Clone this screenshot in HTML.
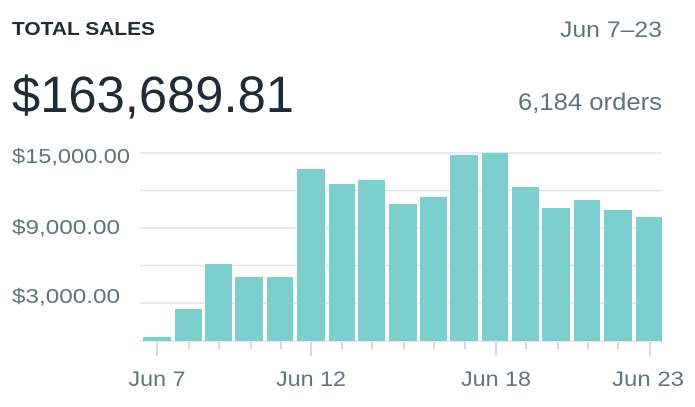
<!DOCTYPE html>
<html><head><style>body{margin:0;background:#fff}svg{display:block}</style></head><body>
<svg width="695" height="407" xmlns="http://www.w3.org/2000/svg" font-family="Liberation Sans, sans-serif">
<text x="12" y="35" font-size="18" font-weight="bold" fill="#212b36" textLength="143" lengthAdjust="spacingAndGlyphs">TOTAL SALES</text>
<text x="662" y="37" font-size="22" fill="#637381" text-anchor="end" textLength="102" lengthAdjust="spacingAndGlyphs">Jun 7–23</text>
<text x="12" y="112" font-size="51" fill="#212b36" textLength="282" lengthAdjust="spacingAndGlyphs">$163,689.81</text>
<text x="662" y="110" font-size="24" fill="#637381" text-anchor="end" textLength="144" lengthAdjust="spacingAndGlyphs">6,184 orders</text>
<g stroke="#dfe3e8" stroke-width="1.5">
<line x1="140" x2="662" y1="153" y2="153"/><line x1="140" x2="662" y1="190.5" y2="190.5"/><line x1="140" x2="662" y1="228" y2="228"/><line x1="140" x2="662" y1="265.5" y2="265.5"/><line x1="140" x2="662" y1="303" y2="303"/><line x1="140" x2="662" y1="341" y2="341"/>
</g>
<g font-size="20.5" fill="#637381">
<text x="12" y="163" textLength="118" lengthAdjust="spacingAndGlyphs">$15,000.00</text>
<text x="12" y="234" textLength="108" lengthAdjust="spacingAndGlyphs">$9,000.00</text>
<text x="12" y="303" textLength="108" lengthAdjust="spacingAndGlyphs">$3,000.00</text>
</g>
<g fill="#7ccfcc">
<rect x="143" y="337" width="28" height="4"/>
<rect x="175" y="309" width="27" height="32"/>
<rect x="205" y="264" width="27" height="77"/>
<rect x="235" y="277" width="28" height="64"/>
<rect x="267" y="277" width="26" height="64"/>
<rect x="297" y="169" width="28" height="172"/>
<rect x="329" y="184" width="26" height="157"/>
<rect x="358" y="180" width="27" height="161"/>
<rect x="389" y="204" width="28" height="137"/>
<rect x="420" y="197" width="27" height="144"/>
<rect x="450" y="155" width="28" height="186"/>
<rect x="482" y="153" width="26" height="188"/>
<rect x="512" y="187" width="27" height="154"/>
<rect x="542" y="208" width="28" height="133"/>
<rect x="574" y="200" width="26" height="141"/>
<rect x="604" y="210" width="28" height="131"/>
<rect x="636" y="217" width="26" height="124"/>
</g>
<g stroke="#c4cdd5" stroke-width="1.5">
<line x1="157" x2="157" y1="342" y2="356"/><line x1="189" x2="189" y1="342" y2="349"/><line x1="219" x2="219" y1="342" y2="349"/><line x1="251" x2="251" y1="342" y2="349"/><line x1="281" x2="281" y1="342" y2="349"/>
<line x1="311" x2="311" y1="342" y2="356"/><line x1="342" x2="342" y1="342" y2="349"/><line x1="372" x2="372" y1="342" y2="349"/><line x1="404" x2="404" y1="342" y2="349"/><line x1="434" x2="434" y1="342" y2="349"/>
<line x1="496" x2="496" y1="342" y2="356"/><line x1="526" x2="526" y1="342" y2="349"/><line x1="558" x2="558" y1="342" y2="349"/><line x1="588" x2="588" y1="342" y2="349"/><line x1="618" x2="618" y1="342" y2="349"/><line x1="650" x2="650" y1="342" y2="356"/><line x1="465" x2="465" y1="342" y2="349"/>
</g>
<g font-size="21" fill="#637381" text-anchor="middle">
<text x="157" y="386" textLength="57" lengthAdjust="spacingAndGlyphs">Jun 7</text>
<text x="311" y="386" textLength="70" lengthAdjust="spacingAndGlyphs">Jun 12</text>
<text x="496" y="386" textLength="70" lengthAdjust="spacingAndGlyphs">Jun 18</text>
<text x="648" y="386" textLength="72" lengthAdjust="spacingAndGlyphs">Jun 23</text>
</g>
</svg>
</body></html>
